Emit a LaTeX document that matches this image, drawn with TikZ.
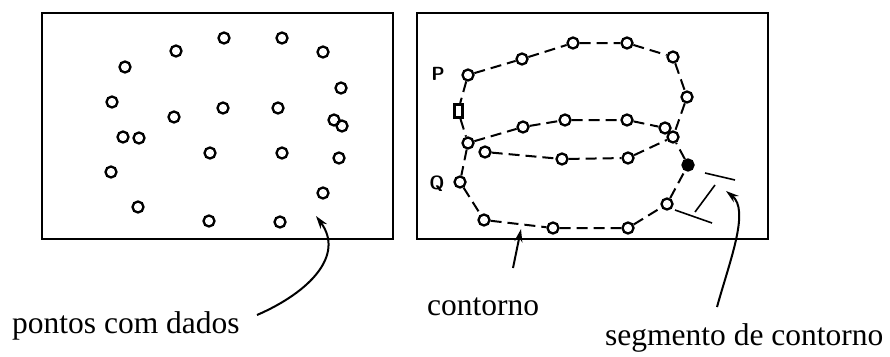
\documentclass[tikz,border=0pt]{standalone}
\usepackage{fontspec}
\setmainfont{Liberation Serif}
\usetikzlibrary{arrows.meta}
\begin{document}
\begin{tikzpicture}[x=1pt,y=-1pt,
  pt/.style={circle,draw,line width=2.3pt,minimum size=11pt,inner sep=0pt},
  ptf/.style={pt,fill=black},
  sq/.style={rectangle,draw,line width=3pt,minimum width=8pt,minimum height=13pt,inner sep=0pt},
  frame/.style={line width=2.2pt},
  cont/.style={line width=2pt,dash pattern=on 11pt off 6pt},
  seg/.style={line width=1.6pt},
  lbl/.style={anchor=base west,inner sep=0pt,font=\fontsize{31.5}{36}\selectfont},
  arr/.style={line width=2pt,-{Stealth[length=13pt,width=8pt]}},
  plbl/.style={inner sep=0pt,font=\sffamily\bfseries\fontsize{19}{21}\selectfont}]
\useasboundingbox (0,0) rectangle (890,356);
% frames
\draw[frame] (42,13) rectangle (393,239);
\draw[frame] (417,13) rectangle (768,239);
% left data points
\foreach \n/\x/\y in {a1/125/67,a2/176/51,a3/224/38,a4/282/38,a5/323/52,a6/341/88,
  a7/112/102,a8/174/117,a9/223/108,a10/278/108,a11/334/120,a12/342/126,
  a13/123/137,a14/139/138,a15/210/153,a16/282/153,a17/339/158,a18/111/172,
  a19/323/193,a20/138/207,a21/209/221,a22/280/222}
  \node[pt] (\n) at (\x,\y) {};
% right contour points
\foreach \n/\x/\y in {p1/468/75,p2/522/59,p3/573/43,p4/627/43,p5/673/57,p6/687/97,
  x0/673/137,m1/468/143,m2/523/127,m3/565/120,m4/627/120,m5/665/128,
  l1/485/152,l2/562/159,l3/628/158,
  q1/460/182,q2/484/220,q3/553/228,q4/628/228,q5/667/204}
  \node[pt] (\n) at (\x,\y) {};
\node[ptf] (q6) at (688,165) {};
\node[sq] (s1) at (458,111) {};
\node[plbl] (P) at (438,74) {P};
\node[plbl] (Q) at (437,184) {Q};
% contour lines
\draw[cont] (p1) -- (p2) -- (p3) -- (p4) -- (p5) -- (p6) -- (x0);
\draw[cont] (m1) -- (m2) -- (m3) -- (m4) -- (m5) -- (x0);
\draw[cont] (l1) -- (l2) -- (l3) -- (x0);
\draw[cont] (p1) -- (s1) -- (m1) -- (q1) -- (q2) -- (q3) -- (q4) -- (q5) -- (q6) -- (x0);
% segment marks
\draw[seg] (705,173) -- (735,180);
\draw[seg] (715,185) -- (695,212);
\draw[seg] (675,210) -- (712,223);
% labels
\node[lbl] (t1) at (12,333) {pontos com dados};
\node[lbl] (t2) at (427,315) {contorno};
\node[lbl] (t3) at (605,345) {segmento de contorno};
% arrows
\coordinate (c1s) at (257,315);
\coordinate (c1e) at (316,216);
\coordinate (c2s) at (513,268);
\coordinate (c2e) at (521,229);
\coordinate (c3s) at (717,307);
\coordinate (c3e) at (726,191);
\draw[arr] (c1s) .. controls (310,292) and (345,255) .. (c1e);
\draw[arr] (c2s) -- (c2e);
\draw[arr] (c3s) .. controls (730,260) and (750,210) .. (c3e);
\end{tikzpicture}
\end{document}
